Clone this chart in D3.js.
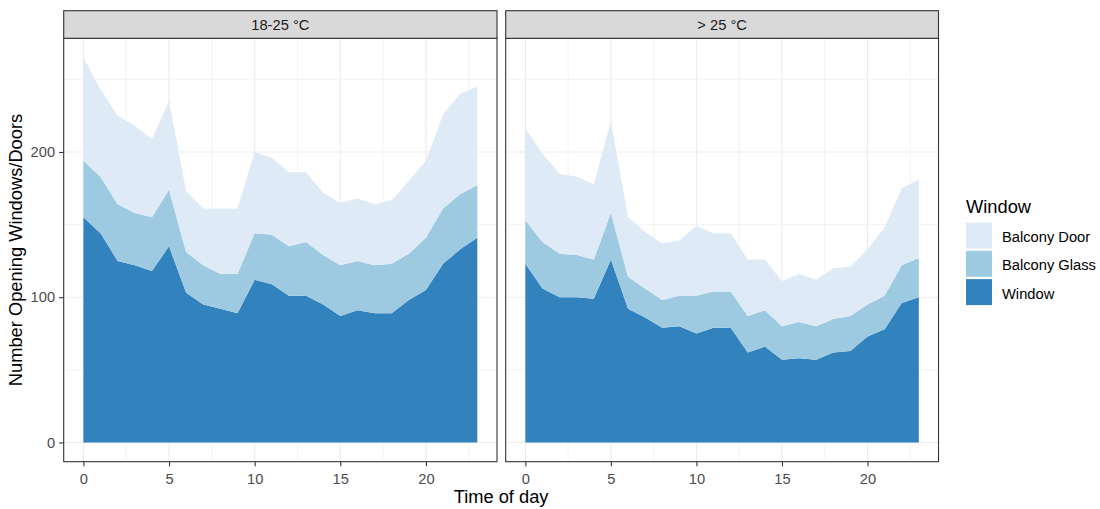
<!DOCTYPE html>
<html>
<head>
<meta charset="utf-8">
<script src="https://cdn.jsdelivr.net/npm/d3@7"></script>
<style>
  html, body { margin: 0; padding: 0; background: #ffffff; }
  svg { display: block; font-family: "Liberation Sans", Arial, sans-serif; }
</style>
</head>
<body>
<svg id="chart" width="1100" height="509"></svg>
<script>
// Hours of the day
const hours = d3.range(0, 24);

// Facet panels (temperature bands)
const panels = ["18-25 °C", "> 25 °C"];

// Series, stacked bottom to top
const seriesNames = ["Window", "Balcony Glass", "Balcony Door"];
const legendOrder = ["Balcony Door", "Balcony Glass", "Window"];

// Counts per hour, 18-25 °C
const mildWindow       = [155,144,125,122,118,135,103,95,92,89,112,109,101,101,95,87,91,89,89,98,105,123,133,141];
const mildBalconyGlass = [39,39,39,36,37,39,28,27,24,27,32,34,34,37,34,35,34,33,34,32,36,38,38,36];
const mildBalconyDoor  = [71,60,61,60,54,61,42,39,45,45,56,53,51,48,43,43,43,42,44,50,53,65,69,68];

// Counts per hour, > 25 °C
const hotWindow       = [123,106,100,100,99,126,92,86,79,80,75,79,79,62,66,57,58,57,62,63,73,78,96,100];
const hotBalconyGlass = [30,32,30,29,27,32,22,20,19,21,26,25,25,25,25,23,25,23,23,24,22,23,26,27];
const hotBalconyDoor  = [63,61,55,54,52,63,41,39,39,38,48,40,40,39,35,31,33,32,35,34,38,47,53,54];

// Axis ticks
const xTicks = [0, 5, 10, 15, 20];
const xMinor = [2.5, 7.5, 12.5, 17.5, 22.5];
const yTicks = [0, 100, 200];
const yMinor = [50, 150, 250];

const colors = {
  "Window": "#3182bd",
  "Balcony Glass": "#9ecae1",
  "Balcony Door": "#deebf7"
};

function rows(win, glass, door) {
  return hours.map((h, i) => ({
    hour: h,
    "Window": win[i],
    "Balcony Glass": glass[i],
    "Balcony Door": door[i]
  }));
}
const panelData = [
  rows(mildWindow, mildBalconyGlass, mildBalconyDoor),
  rows(hotWindow, hotBalconyGlass, hotBalconyDoor)
];

const stack = d3.stack().keys(seriesNames);
const stacked = panelData.map(d => stack(d));

// Layout
const stripTop = 10.7;
const panelTop = 38.3, panelBottom = 461.7;
const panelX = [[63.7, 497], [505.7, 938.5]];

const smallFont = 14.7;
const titleFont = 18.3;

// Shared y scale with 5% expansion
const yMax = d3.max(stacked, s => d3.max(s[s.length - 1], d => d[1]));
const yPad = yMax * 0.05;
const y = d3.scaleLinear().domain([-yPad, yMax + yPad]).range([panelBottom, panelTop]);

const svg = d3.select("#chart");
const gridColor = "#ebebeb";
const borderColor = "#333333";
const tickColor = "#4d4d4d";

panels.forEach((name, p) => {
  const [x0, x1] = panelX[p];
  const xPad = 23 * 0.05;
  const x = d3.scaleLinear().domain([-xPad, 23 + xPad]).range([x0, x1]);
  const g = svg.append("g");

  // Panel background
  g.append("rect").attr("x", x0).attr("y", panelTop)
    .attr("width", x1 - x0).attr("height", panelBottom - panelTop)
    .attr("fill", "#ffffff");

  // Minor grid
  g.selectAll(".xminor").data(xMinor).join("line")
    .attr("x1", d => x(d)).attr("x2", d => x(d))
    .attr("y1", panelTop).attr("y2", panelBottom)
    .attr("stroke", gridColor).attr("stroke-width", 0.6);
  g.selectAll(".yminor").data(yMinor).join("line")
    .attr("x1", x0).attr("x2", x1)
    .attr("y1", d => y(d)).attr("y2", d => y(d))
    .attr("stroke", gridColor).attr("stroke-width", 0.6);
  // Major grid
  g.selectAll(".xmajor").data(xTicks).join("line")
    .attr("x1", d => x(d)).attr("x2", d => x(d))
    .attr("y1", panelTop).attr("y2", panelBottom)
    .attr("stroke", gridColor).attr("stroke-width", 1.1);
  g.selectAll(".ymajor").data(yTicks).join("line")
    .attr("x1", x0).attr("x2", x1)
    .attr("y1", d => y(d)).attr("y2", d => y(d))
    .attr("stroke", gridColor).attr("stroke-width", 1.1);

  // Stacked areas
  const area = d3.area()
    .x(d => x(d.data.hour))
    .y0(d => y(d[0]))
    .y1(d => y(d[1]));
  g.selectAll(".layer").data(stacked[p]).join("path")
    .attr("d", area)
    .attr("fill", d => colors[d.key]);

  // Panel border
  g.append("rect").attr("x", x0).attr("y", panelTop)
    .attr("width", x1 - x0).attr("height", panelBottom - panelTop)
    .attr("fill", "none").attr("stroke", borderColor).attr("stroke-width", 1.1);

  // Strip
  g.append("rect").attr("x", x0).attr("y", stripTop)
    .attr("width", x1 - x0).attr("height", panelTop - stripTop)
    .attr("fill", "#d9d9d9").attr("stroke", borderColor).attr("stroke-width", 1.1);
  g.append("text").attr("x", (x0 + x1) / 2).attr("y", (stripTop + panelTop) / 2 + 5.2)
    .attr("text-anchor", "middle").attr("font-size", smallFont).attr("fill", "#1a1a1a")
    .text(name);

  // X axis
  const xAxis = d3.axisBottom(x).tickValues(xTicks).tickSize(4.6).tickPadding(7.5);
  const ax = g.append("g").attr("transform", `translate(0,${panelBottom})`).call(xAxis);
  ax.select(".domain").remove();
  ax.selectAll(".tick line").attr("stroke", borderColor).attr("stroke-width", 1.1);
  ax.selectAll(".tick text").attr("fill", tickColor).attr("font-size", smallFont)
    .attr("font-family", "Liberation Sans, Arial, sans-serif");

  // Y axis (first panel only)
  if (p === 0) {
    const yAxis = d3.axisLeft(y).tickValues(yTicks).tickSize(4.6).tickPadding(4);
    const ay = g.append("g").attr("transform", `translate(${x0},0)`).call(yAxis);
    ay.select(".domain").remove();
    ay.selectAll(".tick line").attr("stroke", borderColor).attr("stroke-width", 1.1);
    ay.selectAll(".tick text").attr("fill", tickColor).attr("font-size", smallFont)
      .attr("font-family", "Liberation Sans, Arial, sans-serif");
  }
});

// Axis titles
svg.append("text")
  .attr("x", (panelX[0][0] + panelX[1][1]) / 2).attr("y", 503)
  .attr("text-anchor", "middle").attr("font-size", titleFont).attr("fill", "#000")
  .text("Time of day");
svg.append("text")
  .attr("transform", `translate(22,${(panelTop + panelBottom) / 2}) rotate(-90)`)
  .attr("text-anchor", "middle").attr("font-size", titleFont).attr("fill", "#000")
  .text("Number Opening Windows/Doors");

// Legend
const lg = svg.append("g").attr("transform", "translate(966,0)");
lg.append("text").attr("x", 0).attr("y", 213).attr("font-size", titleFont).attr("fill", "#000")
  .text("Window");
legendOrder.forEach((k, i) => {
  const top = 222.5 + i * 28.3;
  lg.append("rect").attr("x", 0).attr("y", top).attr("width", 26).attr("height", 26)
    .attr("fill", colors[k]);
  lg.append("text").attr("x", 36).attr("y", top + 19.5).attr("font-size", smallFont).attr("fill", "#000")
    .text(k);
});
</script>
</body>
</html>
